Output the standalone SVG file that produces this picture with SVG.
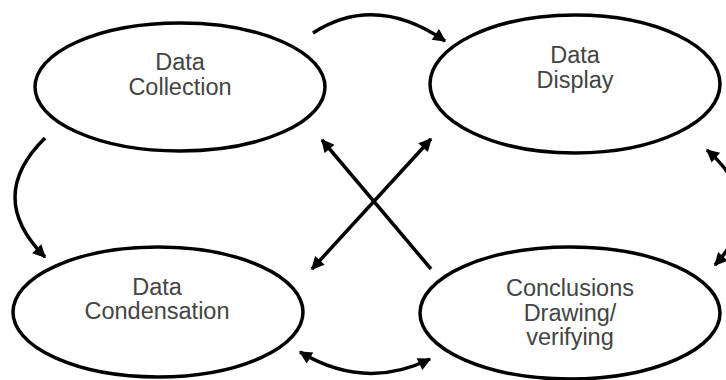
<svg xmlns="http://www.w3.org/2000/svg" width="726" height="380" viewBox="0 0 726 380">
<defs>
<marker id="ah" viewBox="0 0 10 10" refX="9" refY="5" markerWidth="14" markerHeight="13" markerUnits="userSpaceOnUse" orient="auto-start-reverse">
<path d="M0,0 L10,5 L0,10 Z" fill="#000"/>
</marker>
<style>
.node ellipse{fill:#fff;stroke:#000;stroke-width:3.5}
.node text{font-family:"Liberation Sans",Arial,sans-serif;font-size:23.5px;fill:#444;text-anchor:middle}
.c{fill:none;stroke:#000;stroke-width:3.5}
</style>
</defs>
<rect width="726" height="380" fill="#fff"/>
<g id="collection" class="node">
<ellipse cx="180" cy="87" rx="145" ry="64"/>
<text x="180" y="70">Data</text>
<text x="180" y="95">Collection</text>
</g>
<g id="display" class="node">
<ellipse cx="575" cy="84" rx="145" ry="69"/>
<text x="575" y="63">Data</text>
<text x="575" y="88">Display</text>
</g>
<g id="condensation" class="node">
<ellipse cx="158" cy="312" rx="145" ry="65"/>
<text x="157" y="295">Data</text>
<text x="157" y="319">Condensation</text>
</g>
<g id="conclusions" class="node">
<ellipse cx="570" cy="313" rx="150" ry="66"/>
<text x="570" y="296">Conclusions</text>
<text x="570" y="321">Drawing/</text>
<text x="570" y="345">verifying</text>
</g>
<g id="connectors">
<path class="c" d="M313,33 Q375,-7 445,41" marker-end="url(#ah)"/>
<path class="c" d="M45,138 Q-15,197 45,257" marker-end="url(#ah)"/>
<path class="c" d="M300,352 Q365,391 430,359" marker-start="url(#ah)" marker-end="url(#ah)"/>
<path class="c" d="M707,150 Q770,205 715,265" marker-start="url(#ah)" marker-end="url(#ah)"/>
<path class="c" d="M431,269 L322,140" marker-end="url(#ah)"/>
<path class="c" d="M312,269 L431,139" marker-start="url(#ah)" marker-end="url(#ah)"/>
</g>
</svg>
